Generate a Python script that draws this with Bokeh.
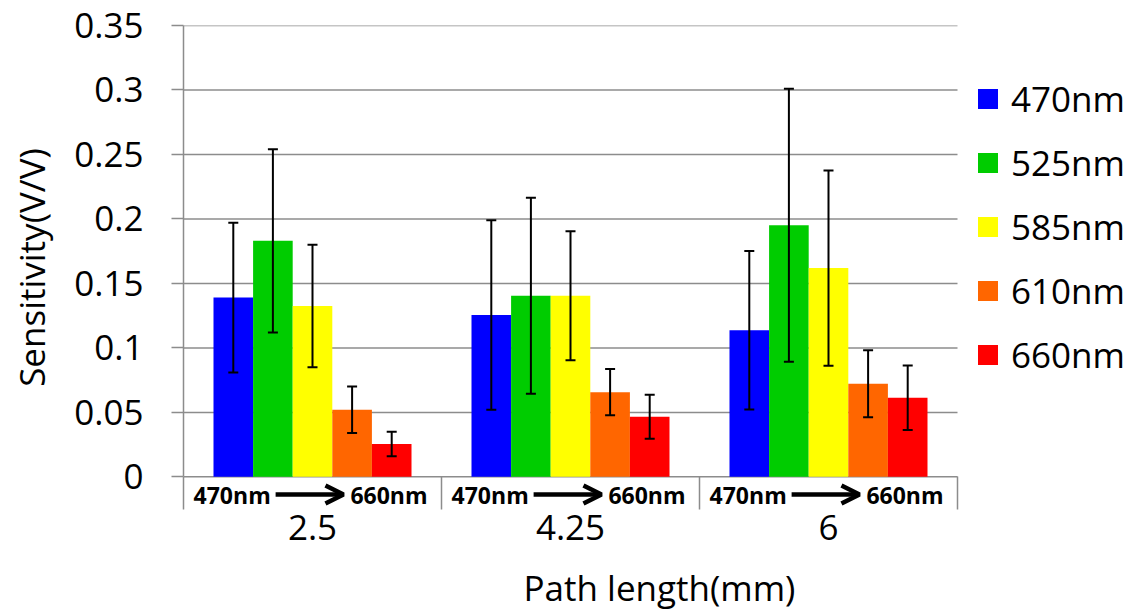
from bokeh.plotting import figure
from bokeh.models import (ColumnDataSource, Range1d, FixedTicker, Whisker, TeeHead,
                          Legend, LegendItem, Arrow, OpenHead)
from bokeh.core.properties import value
from bokeh.embed import file_html
from bokeh.resources import INLINE

# ---- data ----
path_lengths = ["2.5", "4.25", "6"]
wavelengths = ["470nm", "525nm", "585nm", "610nm", "660nm"]
colors = ["#0000FF", "#00CC00", "#FFFF00", "#FF6600", "#FF0000"]
sens_470 = [0.139, 0.1255, 0.1137]
sens_525 = [0.183, 0.1405, 0.1951]
sens_585 = [0.1325, 0.1405, 0.1619]
sens_610 = [0.052, 0.0657, 0.0722]
sens_660 = [0.0255, 0.0466, 0.0613]
err_470 = [0.058, 0.0735, 0.0615]
err_525 = [0.071, 0.076, 0.1058]
err_585 = [0.0475, 0.050, 0.0757]
err_610 = [0.018, 0.018, 0.026]
err_660 = [0.0095, 0.017, 0.025]
y_ticks = [0, 0.05, 0.1, 0.15, 0.2, 0.25, 0.3, 0.35]
y_tick_labels = ["0", "0.05", "0.1", "0.15", "0.2", "0.25", "0.3", "0.35"]

series = [sens_470, sens_525, sens_585, sens_610, sens_660]
errors = [err_470, err_525, err_585, err_610, err_660]

FONT = "Open Sans"
GRAY = "#8c8c8c"
n_cat = len(path_lengths)

# layout: frame spans from the y axis to the right edge so the legend can sit inside it
CAT_PX = 258.0
FRAME_W = 1135 - 183
p = figure(width=1135, height=613, output_backend="svg", toolbar_location=None,
           x_range=Range1d(0, FRAME_W / CAT_PX), y_range=Range1d(-0.0253, 0.35),
           min_border_left=183, min_border_right=0, min_border_top=25, min_border_bottom=103)
p.outline_line_color = None
p.background_fill_color = "white"
p.border_fill_color = "white"
p.xgrid.grid_line_color = None
p.ygrid.grid_line_color = None

# horizontal gridlines limited to the category area
p.segment(x0=[0] * len(y_ticks), x1=[n_cat] * len(y_ticks), y0=y_ticks, y1=y_ticks,
          line_color=GRAY, line_width=1.5)

bar_w = 0.1535
legend_items = []
for i, (vals, errs, col, name) in enumerate(zip(series, errors, colors, wavelengths)):
    xs = [k + 0.5 + (i - 2) * bar_w for k in range(n_cat)]
    src = ColumnDataSource(dict(x=xs, top=vals,
                                upper=[v + e for v, e in zip(vals, errs)],
                                lower=[v - e for v, e in zip(vals, errs)]))
    r = p.vbar(x="x", top="top", bottom=0, width=bar_w, source=src,
               fill_color=col, line_color=None)
    w = Whisker(base="x", upper="upper", lower="lower", source=src, level="overlay",
                line_color="black", line_width=2,
                upper_head=TeeHead(size=10, line_width=2, line_color="black"),
                lower_head=TeeHead(size=10, line_width=2, line_color="black"))
    p.add_layout(w)
    legend_items.append(LegendItem(label=name, renderers=[r]))

# y axis
p.yaxis.ticker = FixedTicker(ticks=y_ticks)
p.yaxis.bounds = (y_ticks[0], y_ticks[-1])
p.yaxis.major_label_overrides = {t: l for t, l in zip(y_ticks, y_tick_labels)}
p.yaxis.major_label_text_font = FONT
p.yaxis.major_label_text_font_size = "35px"
p.yaxis.major_label_text_color = "black"
p.yaxis.major_tick_out = 12
p.yaxis.major_tick_in = 0
p.yaxis.minor_tick_out = 0
p.yaxis.minor_tick_in = 0
p.yaxis.major_label_standoff = 28
p.yaxis.axis_line_color = GRAY
p.yaxis.axis_line_width = 1.5
p.yaxis.major_tick_line_color = GRAY
p.yaxis.major_tick_line_width = 1.5
p.yaxis.axis_label = "Sensitivity(V/V)"
p.yaxis.axis_label_text_font = FONT
p.yaxis.axis_label_text_font_size = "35px"
p.yaxis.axis_label_text_font_style = "normal"
p.yaxis.axis_label_text_color = "black"
p.yaxis.axis_label_standoff = 16

# x axis (at the bottom of the frame, separators drawn as inward minor ticks)
cat_ticks = [k + 0.5 for k in range(n_cat)]
p.xaxis.ticker = FixedTicker(ticks=cat_ticks, minor_ticks=list(range(n_cat + 1)))
p.xaxis.bounds = (0, n_cat)
p.xaxis.major_label_overrides = {t: l for t, l in zip(cat_ticks, path_lengths)}
p.xaxis.major_label_text_font = FONT
p.xaxis.major_label_text_font_size = "35px"
p.xaxis.major_label_text_color = "black"
p.xaxis.major_tick_out = 0
p.xaxis.major_tick_in = 0
p.xaxis.minor_tick_out = 0
p.xaxis.minor_tick_in = 33
p.xaxis.minor_tick_line_color = GRAY
p.xaxis.minor_tick_line_width = 1.5
p.xaxis.major_label_standoff = 5
p.xaxis.axis_line_color = None
p.xaxis.axis_label = "Path length(mm)"
p.xaxis.axis_label_text_font = FONT
p.xaxis.axis_label_text_font_size = "35px"
p.xaxis.axis_label_text_font_style = "normal"
p.xaxis.axis_label_text_color = "black"
p.xaxis.axis_label_standoff = 21

# sub-labels under each group: 470nm -> 660nm
sub_y = -0.0137
p.text(x=[k + 0.039 for k in range(n_cat)], y=[sub_y] * n_cat, text=[wavelengths[0]] * n_cat,
       text_font=value(FONT), text_font_size="23px", text_font_style="bold",
       text_align="left", text_baseline="middle", text_color="black")
p.text(x=[k + 0.946 for k in range(n_cat)], y=[sub_y] * n_cat, text=[wavelengths[-1]] * n_cat,
       text_font=value(FONT), text_font_size="23px", text_font_style="bold",
       text_align="right", text_baseline="middle", text_color="black")
for k in range(n_cat):
    p.add_layout(Arrow(x_start=k + 0.357, x_end=k + 0.62, y_start=sub_y, y_end=sub_y,
                       line_width=4.5, line_color="black",
                       end=OpenHead(size=18, line_width=4.5, line_color="black")))

legend = Legend(items=legend_items, glyph_width=25, glyph_height=25, label_height=47,
                spacing=17, label_standoff=11, padding=0, margin=0,
                label_text_font=FONT, label_text_font_size="35px", label_text_color="black",
                border_line_color=None, background_fill_alpha=0,
                location=(792, 131))
p.add_layout(legend)

open("out.html", "w").write(file_html(p, INLINE))
